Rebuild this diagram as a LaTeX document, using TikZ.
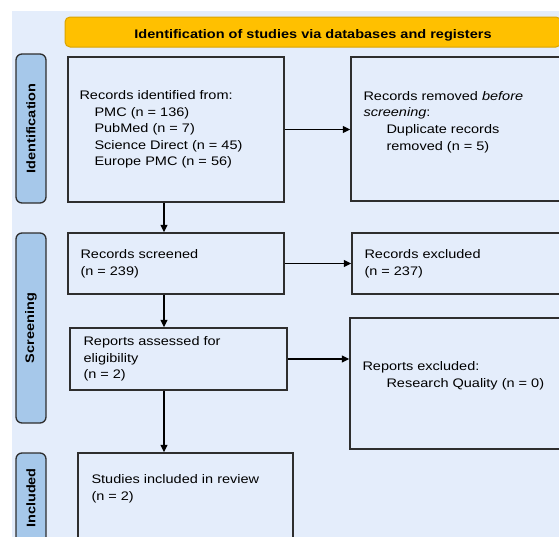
\documentclass[tikz,border=0pt]{standalone}
\usepackage{fontspec}
\setmainfont{Liberation Sans}[FakeStretch=1.17]
\usepackage{tikz}
\usetikzlibrary{arrows.meta,positioning}
\definecolor{ink}{HTML}{2E2E2E}
\definecolor{bg}{HTML}{E4EDFB}
\definecolor{cbar}{HTML}{A6C8EA}
\definecolor{cyel}{HTML}{FFC000}
\definecolor{dyel}{HTML}{D9A300}
\tikzset{
  >={Triangle[length=7.5pt,width=7pt]},
  every picture/.style={font=\fontsize{12.4}{16.6}\selectfont},
  bx/.style={draw=ink,fill=bg,line width=1.4pt,inner sep=0},
  bar/.style={draw=ink,fill=cbar,line width=1.3pt,rounded corners=6pt,minimum width=30pt,inner sep=0,
    font=\fontsize{12.4}{15}\selectfont\bfseries},
  hdr/.style={draw=dyel,fill=cyel,line width=1pt,rounded corners=5pt,minimum height=30pt,
    text height=12pt,text depth=0pt,font=\fontsize{12.4}{15}\selectfont\bfseries},
  txt/.style={anchor=west,align=left,inner sep=0},
  arr/.style={->,draw=black,line width=1.3pt},
}
\begin{document}
\begin{tikzpicture}[x=1pt,y=-1pt]
  \clip (0,0) rectangle (559,536);
  \fill[bg] (12,11) rectangle (570,545);
  \node[hdr,minimum width=496] (head) at (313,32) {Identification of studies via databases and registers};
  % phases
  \node[bar,minimum height=149] (pid) at (31,128.5) {};
  \node[bar,minimum height=190] (psc) at (31,328) {};
  \node[bar,minimum height=90] (pin) at (31,498) {};
  \node[rotate=90,font=\fontsize{12.4}{15}\selectfont\bfseries] (pidt) at (pid) {Identification};
  \node[rotate=90,font=\fontsize{12.4}{15}\selectfont\bfseries] (psct) at (psc) {Screening};
  \node[rotate=90,font=\fontsize{12.4}{15}\selectfont\bfseries] (pint) at (pin) {Included};
  % boxes
  \node[bx,minimum width=216,minimum height=145] (idf) at (176,129.5) {};
  \node[bx,minimum width=250,minimum height=144] (rem) at (476,129) {};
  \node[bx,minimum width=216,minimum height=61] (scr) at (176,263.5) {};
  \node[bx,minimum width=250,minimum height=61] (exc) at (477,263.5) {};
  \node[bx,minimum width=217,minimum height=62] (asm) at (178.5,359) {};
  \node[bx,minimum width=250,minimum height=131] (rex) at (475,383.5) {};
  \node[bx,minimum width=215,minimum height=100] (inc) at (185.5,503) {};
  % texts
  \node[txt] (idft) at ([xshift=12pt]idf.west) {Records identified from:\\
    \hspace*{15pt}PMC (n = 136)\\ \hspace*{15pt}PubMed (n = 7)\\
    \hspace*{15pt}Science Direct (n = 45)\\ \hspace*{15pt}Europe PMC (n = 56)};
  \node[txt] (remt) at ([xshift=13pt,yshift=7pt]rem.west) {Records removed \emph{before}\\
    \emph{screening}:\\ \hspace*{23pt}Duplicate records\\ \hspace*{23pt}removed (n = 5)};
  \node[txt] (scrt) at ([xshift=13pt]scr.west) {Records screened\\(n = 239)};
  \node[txt] (exct) at ([xshift=13pt]exc.west) {Records excluded\\(n = 237)};
  \node[txt] (asmt) at ([xshift=14pt]asm.west) {Reports assessed for\\eligibility\\(n = 2)};
  \node[txt] (rext) at ([xshift=13pt,yshift=7.5pt]rex.west) {Reports excluded:\\
    \hspace*{24pt}Research Quality (n = 0)};
  \node[txt] (inct) at ([xshift=14pt,yshift=14pt]inc.west) {Studies included in review\\(n = 2)};
  % arrows
  \coordinate (spine) at (164,0);
  \draw[arr] (idf.south -| spine) -- (scr.north -| spine);
  \draw[arr] (scr.south -| spine) -- (asm.north -| spine);
  \draw[arr] (asm.south -| spine) -- (inc.north -| spine);
  \draw[arr] (idf.east) -- (idf.east -| rem.west);
  \draw[arr] (scr.east) -- (scr.east -| exc.west);
  \draw[arr] (asm.east) -- (asm.east -| rex.west);
\end{tikzpicture}
\end{document}
